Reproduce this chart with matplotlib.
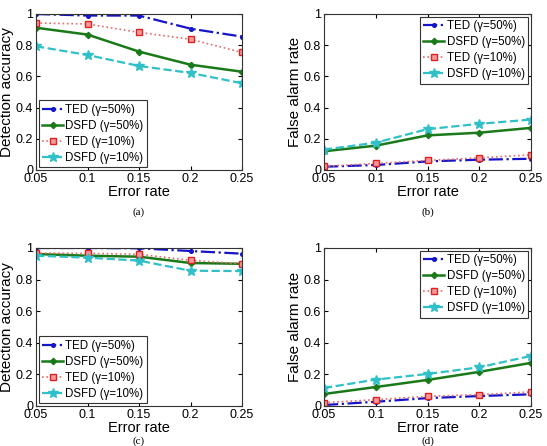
import matplotlib
matplotlib.use("Agg")
import matplotlib.pyplot as plt

plt.rcParams['font.family'] = ['Liberation Sans', 'DejaVu Sans']

error_rate = [0.05, 0.1, 0.15, 0.2, 0.25]
xticklabels = ["0.05", "0.1", "0.15", "0.2", "0.25"]
yticks = [0, 0.2, 0.4, 0.6, 0.8, 1.0]
yticklabels = ["0", "0.2", "0.4", "0.6", "0.8", "1"]
series_names = ["TED (γ=50%)", "DSFD (γ=50%)", "TED (γ=10%)", "DSFD (γ=10%)"]

# (a) detection accuracy
a_ted50 = [1.0, 0.99, 0.99, 0.906, 0.855]
a_dsfd50 = [0.912, 0.868, 0.759, 0.675, 0.63]
a_ted10 = [0.942, 0.936, 0.882, 0.838, 0.754]
a_dsfd10 = [0.793, 0.737, 0.667, 0.622, 0.556]
# (b) false alarm rate
b_ted50 = [0.021, 0.032, 0.055, 0.066, 0.072]
b_dsfd50 = [0.12, 0.156, 0.222, 0.239, 0.27]
b_ted10 = [0.023, 0.042, 0.061, 0.078, 0.097]
b_dsfd10 = [0.131, 0.175, 0.262, 0.296, 0.323]
# (c) detection accuracy
c_ted50 = [1.0, 1.0, 0.998, 0.981, 0.964]
c_dsfd50 = [0.962, 0.951, 0.945, 0.905, 0.9]
c_ted10 = [0.968, 0.966, 0.96, 0.922, 0.9]
c_dsfd10 = [0.951, 0.939, 0.92, 0.856, 0.854]
# (d) false alarm rate
d_ted50 = [0.006, 0.027, 0.05, 0.063, 0.074]
d_dsfd50 = [0.076, 0.12, 0.165, 0.216, 0.273]
d_ted10 = [0.021, 0.04, 0.061, 0.072, 0.089]
d_dsfd10 = [0.114, 0.167, 0.203, 0.245, 0.317]

panels = [
    ("(a)", "Detection accuracy", [a_ted50, a_dsfd50, a_ted10, a_dsfd10], "lower left"),
    ("(b)", "False alarm rate", [b_ted50, b_dsfd50, b_ted10, b_dsfd10], "upper right"),
    ("(c)", "Detection accuracy", [c_ted50, c_dsfd50, c_ted10, c_dsfd10], "lower left"),
    ("(d)", "False alarm rate", [d_ted50, d_dsfd50, d_ted10, d_dsfd10], "upper right"),
]

styles = [
    dict(color='#1414c8', linestyle='-.', marker='o', markersize=2.6, markerfacecolor='#1414c8', linewidth=1.6),
    dict(color='#1a7a1a', linestyle='-', marker='D', markersize=3.2, markerfacecolor='#1a7a1a', linewidth=1.8),
    dict(color='#e86a6a', linestyle=':', marker='s', markersize=4.5, markerfacecolor='#f39a9a', markeredgecolor='#e02020', linewidth=1.2),
    dict(color='#30c0c8', linestyle='--', marker='*', markersize=7, markerfacecolor='#30c0c8', linewidth=1.6),
]

W, H = 547, 446
fig = plt.figure(figsize=(W / 100, H / 100), dpi=100)

boxes = [
    (36, 14, 242, 170),
    (324, 14, 531, 170),
    (36, 248, 242, 406),
    (324, 248, 531, 406),
]
captions_y = [212, 212, 441, 441]

for (cap, ylab, data, loc), (x0, y0, x1, y1), cy in zip(panels, boxes, captions_y):
    ax = fig.add_axes([x0 / W, 1 - y1 / H, (x1 - x0) / W, (y1 - y0) / H])
    for vals, name, st in zip(data, series_names, styles):
        ax.plot(error_rate, vals, label=name, **st)
    ax.set_xlim(0.05, 0.25)
    ax.set_ylim(0, 1)
    ax.set_xticks(error_rate)
    ax.set_xticklabels(xticklabels)
    ax.set_yticks(yticks)
    ax.set_yticklabels(yticklabels)
    ax.tick_params(direction='in', top=True, right=True, labelsize=9, length=3, pad=2)
    for sp in ax.spines.values():
        sp.set_linewidth(0.8)
        sp.set_color('#333333')
    ax.set_xlabel("Error rate", fontsize=10.5, labelpad=0)
    ax.set_ylabel(ylab, fontsize=11, labelpad=1)
    leg = ax.legend(loc=loc, fontsize=8.3, frameon=True, fancybox=False, handlelength=1.8,
                    handletextpad=0.2, borderpad=0.3, labelspacing=0.35, borderaxespad=0.25,
                    edgecolor='#333333', framealpha=1)
    leg.get_frame().set_linewidth(0.8)
    fig.text(((x0 + x1) / 2) / W, 1 - cy / H, cap, ha='center', va='center', fontsize=8,
             family=['Liberation Serif', 'DejaVu Serif'])

fig.savefig("out.png", dpi=100)
